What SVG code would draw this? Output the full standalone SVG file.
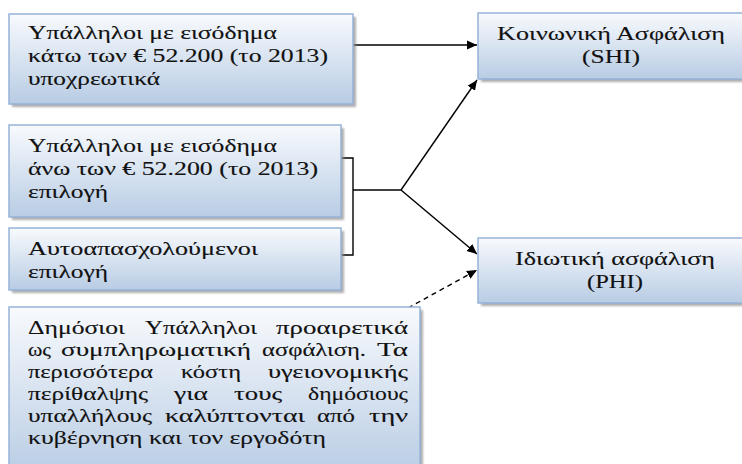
<svg xmlns="http://www.w3.org/2000/svg" width="742" height="464" viewBox="0 0 742 464">
  <defs>
    <linearGradient id="boxFill" x1="0" y1="0" x2="0" y2="1">
      <stop offset="0" stop-color="#f8fafd"/>
      <stop offset="1" stop-color="#b8cce4"/>
    </linearGradient>
    <filter id="soft" x="-10%" y="-10%" width="130%" height="130%">
      <feGaussianBlur stdDeviation="1.2"/>
    </filter>
    <marker id="arrow" viewBox="0 0 10 10" refX="10" refY="5" markerWidth="10" markerHeight="10" markerUnits="userSpaceOnUse" orient="auto">
      <path d="M0,0.5 L10,5 L0,9.5 Z" fill="#000"/>
    </marker>
  </defs>
  <style>
    .shadow { fill: #8c8c8c; opacity: 0.7; filter: url(#soft); }
    .box { fill: url(#boxFill); stroke: #95b3d7; stroke-width: 1.5; }
    text { font-family: "Liberation Serif", "DejaVu Serif", "Times New Roman", serif; font-size: 19px; fill: #111; stroke: #111; stroke-width: 0.12; }
    .mid { text-anchor: middle; }
    .conn { fill: none; stroke: #000; stroke-width: 1.4; }
    .dash { stroke-dasharray: 5 4; }
  </style>

  <rect width="742" height="464" fill="#fff"/>

  <!-- connectors -->
  <g id="connectors">
    <line class="conn" x1="353" y1="45" x2="477" y2="45" marker-end="url(#arrow)"/>
    <polyline class="conn" points="341,158 353,158 353,255 341,255"/>
    <line class="conn" x1="353" y1="190" x2="401" y2="190"/>
    <line class="conn" x1="401" y1="190" x2="477" y2="80" marker-end="url(#arrow)"/>
    <line class="conn" x1="401" y1="190" x2="477" y2="254" marker-end="url(#arrow)"/>
    <line class="conn dash" x1="408" y1="308" x2="477" y2="270" marker-end="url(#arrow)"/>
  </g>

  <!-- employees below the income limit -->
  <g id="employees-low">
    <rect class="shadow" x="12" y="17" width="344" height="90"/>
    <rect class="box" x="9" y="14" width="344" height="90"/>
    <text x="28" y="38.5" textLength="249" lengthAdjust="spacingAndGlyphs">Υπάλληλοι με εισόδημα</text>
    <text x="28" y="61.5" textLength="300" lengthAdjust="spacingAndGlyphs">κάτω των € 52.200 (το 2013)</text>
    <text x="28" y="84.5" textLength="132" lengthAdjust="spacingAndGlyphs">υποχρεωτικά</text>
  </g>

  <!-- employees above the income limit -->
  <g id="employees-high">
    <rect class="shadow" x="12" y="128" width="332" height="92"/>
    <rect class="box" x="9" y="125" width="332" height="92"/>
    <text x="28" y="151.5" textLength="249" lengthAdjust="spacingAndGlyphs">Υπάλληλοι με εισόδημα</text>
    <text x="28" y="174.5" textLength="290" lengthAdjust="spacingAndGlyphs">άνω των € 52.200 (το 2013)</text>
    <text x="28" y="197.5" textLength="80" lengthAdjust="spacingAndGlyphs">επιλογή</text>
  </g>

  <!-- self-employed -->
  <g id="self-employed">
    <rect class="shadow" x="12" y="231" width="332" height="62"/>
    <rect class="box" x="9" y="228" width="332" height="62"/>
    <text x="28" y="254.5" textLength="230" lengthAdjust="spacingAndGlyphs">Αυτοαπασχολούμενοι</text>
    <text x="28" y="277.5" textLength="80" lengthAdjust="spacingAndGlyphs">επιλογή</text>
  </g>

  <!-- civil servants: justified paragraph, one text per word -->
  <g id="civil-servants">
    <rect class="shadow" x="12" y="310" width="411" height="170"/>
    <rect class="box" x="9" y="307" width="411" height="170"/>
    <text x="28" y="334" textLength="97" lengthAdjust="spacingAndGlyphs">Δημόσιοι</text>
    <text x="145" y="334" textLength="112" lengthAdjust="spacingAndGlyphs">Υπάλληλοι</text>
    <text x="276" y="334" textLength="132" lengthAdjust="spacingAndGlyphs">προαιρετικά</text>

    <text x="28" y="356" textLength="23" lengthAdjust="spacingAndGlyphs">ως</text>
    <text x="61" y="356" textLength="190" lengthAdjust="spacingAndGlyphs">συμπληρωματική</text>
    <text x="262" y="356" textLength="104" lengthAdjust="spacingAndGlyphs">ασφάλιση.</text>
    <text x="377" y="356" textLength="31" lengthAdjust="spacingAndGlyphs">Τα</text>

    <text x="28" y="378" textLength="125" lengthAdjust="spacingAndGlyphs">περισσότερα</text>
    <text x="181" y="378" textLength="60" lengthAdjust="spacingAndGlyphs">κόστη</text>
    <text x="268" y="378" textLength="140" lengthAdjust="spacingAndGlyphs">υγειονομικής</text>

    <text x="28" y="400" textLength="120" lengthAdjust="spacingAndGlyphs">περίθαλψης</text>
    <text x="174" y="400" textLength="34" lengthAdjust="spacingAndGlyphs">για</text>
    <text x="234" y="400" textLength="48" lengthAdjust="spacingAndGlyphs">τους</text>
    <text x="308" y="400" textLength="100" lengthAdjust="spacingAndGlyphs">δημόσιους</text>

    <text x="28" y="422" textLength="124" lengthAdjust="spacingAndGlyphs">υπαλλήλους</text>
    <text x="165" y="422" textLength="140" lengthAdjust="spacingAndGlyphs">καλύπτονται</text>
    <text x="317" y="422" textLength="38" lengthAdjust="spacingAndGlyphs">από</text>
    <text x="369" y="422" textLength="39" lengthAdjust="spacingAndGlyphs">την</text>

    <text x="28" y="444" textLength="298" lengthAdjust="spacingAndGlyphs">κυβέρνηση και τον εργοδότη</text>
  </g>

  <!-- social health insurance -->
  <g id="shi">
    <rect class="shadow" x="481" y="16" width="280" height="66"/>
    <rect class="box" x="478" y="13" width="280" height="66"/>
    <text class="mid" x="611" y="40" textLength="228" lengthAdjust="spacingAndGlyphs">Κοινωνική Ασφάλιση</text>
    <text class="mid" x="611" y="63" textLength="58" lengthAdjust="spacingAndGlyphs">(SHI)</text>
  </g>

  <!-- private health insurance -->
  <g id="phi">
    <rect class="shadow" x="481" y="241" width="280" height="65"/>
    <rect class="box" x="478" y="238" width="280" height="65"/>
    <text class="mid" x="615" y="265" textLength="200" lengthAdjust="spacingAndGlyphs">Ιδιωτική ασφάλιση</text>
    <text class="mid" x="615" y="288" textLength="56" lengthAdjust="spacingAndGlyphs">(PHI)</text>
  </g>
</svg>
